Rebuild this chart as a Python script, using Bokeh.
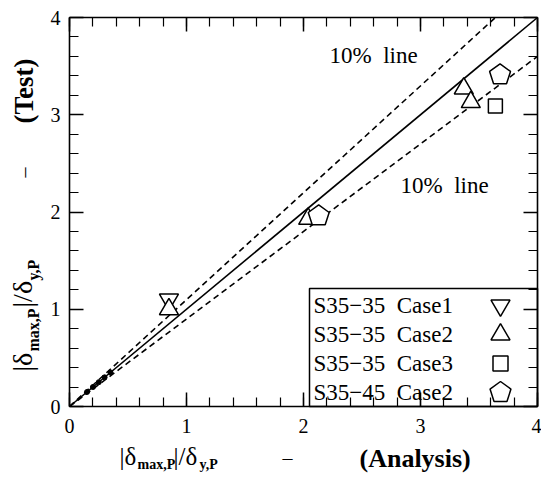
import math
from bokeh.plotting import figure
from bokeh.models import (Range1d, LinearAxis, SingleIntervalTicker, Label,
                          BoxAnnotation)
from bokeh.embed import file_html
from bokeh.resources import INLINE

# ---------------- data ----------------
case1_x = [0.85]
case1_y = [1.10]
case2_x = [0.85, 2.04, 3.37, 3.43]
case2_y = [1.00, 1.93, 3.27, 3.13]
case3_x = [3.64]
case3_y = [3.09]
s3545_x = [2.13, 3.68]
s3545_y = [1.96, 3.41]
small_x = [0.15, 0.20, 0.25, 0.30, 0.35]
small_y = [0.15, 0.20, 0.25, 0.30, 0.35]
ident_x = [0, 4]
ident_y = [0, 4]
upper_x = [0, 3.64]
upper_y = [0, 4.0]
lower_x = [0, 4.0]
lower_y = [0, 3.6]
NB = "\u00a0"
legend_labels = ["S35\u221235" + NB * 2 + "Case1", "S35\u221235" + NB * 2 + "Case2",
                 "S35\u221235" + NB * 2 + "Case3", "S35\u221245" + NB * 2 + "Case2"]
line_label = "10%" + NB * 2 + "line"

# ---------------- layout (whole canvas is the frame) ----------------
W, H = 541, 477
PX0, PX4 = 69, 537      # pixel column of x=0 and x=4
PY0, PY4 = 406, 17      # pixel row of y=0 and y=4
XMIN, XMAX, YMIN, YMAX = 0, 4, 0, 4
KX = (PX4 - PX0) / (XMAX - XMIN)
KY = (PY0 - PY4) / (YMAX - YMIN)
SERIF = "Liberation Serif"

def px2x(px):
    return XMIN + (px - PX0) / KX

def py2y(py):
    return YMIN + (PY0 - py) / KY

p = figure(width=W, height=H, output_backend="svg", toolbar_location=None,
           x_range=Range1d(px2x(0), px2x(W)), y_range=Range1d(py2y(H), py2y(0)),
           x_axis_location=None, y_axis_location=None,
           min_border=0, background_fill_color="white",
           border_fill_color="white")
p.grid.visible = False
p.outline_line_color = None


def make_axis(loc, show_labels, standoff):
    ax = LinearAxis(ticker=SingleIntervalTicker(interval=1, num_minor_ticks=5),
                    fixed_location=loc, bounds=(0, 4))
    ax.axis_line_color = "black"
    ax.axis_line_width = 1.6
    ax.major_tick_in = 14
    ax.major_tick_out = 0
    ax.minor_tick_in = 9
    ax.minor_tick_out = 0
    ax.major_tick_line_width = 1.5
    ax.minor_tick_line_width = 1.2
    ax.major_tick_line_color = "black"
    ax.minor_tick_line_color = "black"
    ax.major_label_text_font = SERIF
    ax.major_label_text_font_size = "20px"
    ax.major_label_text_color = "black"
    ax.major_label_standoff = standoff
    if not show_labels:
        ax.major_label_text_font_size = "0px"
        ax.major_label_standoff = 0
        ax.major_label_text_alpha = 0
    return ax

p.add_layout(make_axis(YMIN, True, 12), "below")
p.add_layout(make_axis(XMIN, True, 9), "left")
p.add_layout(make_axis(YMAX, False, 0), "above")
p.add_layout(make_axis(XMAX, False, 0), "right")

# ---------------- lines ----------------
p.line(ident_x, ident_y, line_color="black", line_width=1.6)
p.line(upper_x, upper_y, line_color="black", line_width=1.6, line_dash="6 4")
p.line(lower_x, lower_y, line_color="black", line_width=1.6, line_dash="6 4")

# ---------------- markers ----------------
mk = dict(fill_color="white", line_color="black", line_width=1.5)
p.scatter(small_x, small_y, marker="circle", size=5, fill_color="black",
          line_color="black")
p.scatter(case1_x, case1_y, marker="inverted_triangle", size=19, **mk)
p.scatter(case2_x, case2_y, marker="triangle", size=19, **mk)
p.scatter(case3_x, case3_y, marker="square", size=14, **mk)


def pentagon(cx, cy, r):
    xs, ys = [], []
    for k in range(5):
        a = math.pi / 2 + 2 * math.pi * k / 5
        xs.append(cx + r * math.cos(a) / KX)
        ys.append(cy + r * math.sin(a) / KY)
    return xs, ys

pent_xs, pent_ys = [], []
for cx, cy in zip(s3545_x, s3545_y):
    a, b = pentagon(cx, cy, 11)
    pent_xs.append(a)
    pent_ys.append(b)
p.patches(pent_xs, pent_ys, fill_color="white", line_color="black",
          line_width=1.5)

# ---------------- text helper (pixel positions -> data) ----------------
def lab(px, py, text, size, bold=False, angle=0.0, align="left"):
    p.add_layout(Label(x=px2x(px), y=py2y(py), text=text,
                       text_font=SERIF, text_font_size=f"{size}px",
                       text_font_style="bold" if bold else "normal",
                       text_color="black", text_baseline="middle",
                       text_align=align, angle=angle))

# ---------------- 10% labels ----------------
lab(329, 55, line_label, 23)
lab(400, 185, line_label, 23)

# ---------------- legend ----------------
p.add_layout(BoxAnnotation(left=px2x(309), right=XMAX, bottom=YMIN,
                           top=py2y(288), fill_color="white", fill_alpha=1.0,
                           line_color="black", line_alpha=1.0, line_width=1.5,
                           level="underlay"))
row_py = [305, 334, 363, 392]
for lab_, rp in zip(legend_labels, row_py):
    lab(313, rp, lab_, 23)
mx = px2x(500)
leg_y = [py2y(rp) for rp in row_py]
p.scatter([mx], [leg_y[0]], marker="inverted_triangle", size=19, **mk)
p.scatter([mx], [leg_y[1]], marker="triangle", size=19, **mk)
p.scatter([mx], [leg_y[2]], marker="square", size=15, **mk)
lx, ly = pentagon(mx, leg_y[3], 11)
p.patch(lx, ly, fill_color="white", line_color="black", line_width=1.5)

# ---------------- axis titles (composite) ----------------
# x title
lab(119, 456, "|\u03b4", 25)
lab(137, 464, "max,P", 14, bold=True)
lab(173, 456, "|/\u03b4", 25)
lab(199, 464, "y,P", 14, bold=True)
lab(287, 457, "\u2013", 20, align="center")
lab(359, 458, "(Analysis)", 26, bold=True)

# y title (rotated, reading upward)
ang = math.pi / 2
lab(22, 371, "|\u03b4", 28, angle=ang)
lab(33, 351, "max,P", 16, bold=True, angle=ang)
lab(22, 307, "|/\u03b4", 28, angle=ang)
lab(33, 280, "y,P", 16, bold=True, angle=ang)
lab(23, 172, "\u2013", 20, angle=ang, align="center")
lab(23, 123, "(Test)", 27, bold=True, angle=ang)

open("out.html", "w").write(file_html(p, INLINE))
